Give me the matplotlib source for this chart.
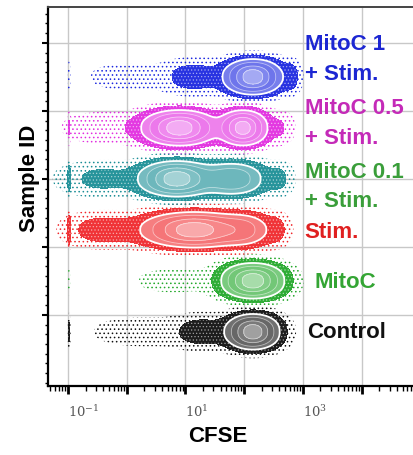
import numpy as np
import matplotlib
matplotlib.use("Agg")
import matplotlib.pyplot as plt
from matplotlib import ticker, colors as mcolors

plt.rcParams["mathtext.fontset"] = "dejavuserif"

# Samples from bottom to top of the stack
samples = ["Control", "MitoC", "Stim.", "MitoC 0.1\n+ Stim.", "MitoC 0.5\n+ Stim.", "MitoC 1\n+ Stim."]
row_y = [0.75, 1.5, 2.25, 3.0, 3.75, 4.5]
dot_colors = ["#111111", "#22a82a", "#f0282c", "#1b8e96", "#e22ee0", "#1c28e0"]
label_colors = ["#111111", "#34a534", "#e02020", "#3a9e3a", "#c42ab8", "#1c26d2"]

# CFSE populations per sample: (log10 centre, log10 width, relative weight)
peaks = [
    [(2.15, 0.23, 1.0), (1.3, 0.28, 0.08), (0.3, 0.55, 0.02), (-0.98, 0.012, 0.06)],
    [(2.15, 0.27, 1.0), (0.8, 0.5, 0.012), (-0.98, 0.012, 0.02)],
    [(1.15, 0.45, 1.0), (2.0, 0.25, 0.3), (-0.4, 0.35, 0.08), (2.55, 0.13, 0.05), (-0.98, 0.015, 0.12)],
    [(0.85, 0.32, 1.0), (1.8, 0.3, 0.5), (-0.4, 0.40, 0.06), (2.6, 0.13, 0.05), (-0.98, 0.015, 0.08)],
    [(0.9, 0.32, 1.0), (1.98, 0.21, 0.95), (-0.3, 0.45, 0.03), (2.62, 0.13, 0.04), (-0.98, 0.012, 0.04)],
    [(2.15, 0.25, 1.0), (1.15, 0.30, 0.08), (0.0, 0.45, 0.015), (2.8, 0.09, 0.06), (-0.98, 0.012, 0.03)],
]
row_height = 0.148

# label anchor per sample: (log10 x, y of first line)
label_x = [3.08, 3.2, 3.03, 3.03, 3.03, 3.03]
label_top = [0.74, 1.47, 2.21, 3.10, 4.04, 4.97]

dec_ticks = [-1, 0, 1, 2, 3, 4, 5]
dec_labels = [r"$10^{-1}$", "", r"$10^{1}$", "", r"$10^{3}$", "", r"$10^{5}$"]


def tint(c, f):
    r = np.array(mcolors.to_rgb(c))
    return tuple(r + (1 - r) * f)


fig = plt.figure(figsize=(4.13, 4.55), dpi=100)
ax = fig.add_axes([0.116, 0.152, 0.93, 0.833])

gx = np.linspace(-1.34, 3.6, 1600)
for y0, comps, col in zip(row_y, peaks, dot_colors):
    gy = np.linspace(y0 - 0.4, y0 + 0.4, 240)
    GX, GY = np.meshgrid(gx, gy)
    dens = np.zeros_like(GX)
    for mu, sx, w in comps:
        dens += w * np.exp(-(GX - mu) ** 2 / (2 * sx ** 2))
    # slightly flat-topped profile across the row
    dens *= np.exp(-0.5 * (np.abs(GY - y0) / row_height) ** 2.4)
    dens /= dens.max()
    X = 10 ** GX

    # sparse events as stippling
    with plt.rc_context({"hatch.color": col, "hatch.linewidth": 0.6}):
        ax.contourf(X, GY, dens, levels=[0.006, 0.04], colors="none", hatches=["...."])
    # dense events around the main populations
    with plt.rc_context({"hatch.color": tint(col, 0.6), "hatch.linewidth": 0.5}):
        ax.contourf(X, GY, dens, levels=[0.04, 0.14], colors=[col], alpha=0.95, hatches=["....."])
    # pseudocolour contours
    lv = [0.14, 0.3, 0.55, 0.8, 1.01]
    fills = [tint(col, f) for f in (0.4, 0.36, 0.44, 0.6)]
    ax.contourf(X, GY, dens, levels=lv, colors=fills)
    ax.contour(X, GY, dens, levels=lv[1:-1], colors="white", linewidths=0.6, alpha=0.55)
    ax.contour(X, GY, dens, levels=[0.14], colors="white", linewidths=1.3)

for name, lx, ly, lc in zip(samples, label_x, label_top, label_colors):
    for i, line in enumerate(name.split("\n")):
        ax.text(10 ** lx, ly - i * 0.44, line, color=lc, fontsize=16, fontweight="bold",
                family="Liberation Sans", ha="left", va="center")

ax.set_xscale("log")
ax.set_xlim(10 ** -1.34, 10 ** 5.2)
ax.set_ylim(-0.045, 5.53)

ax.set_xticks([10.0 ** d for d in dec_ticks], dec_labels)
ax.xaxis.set_minor_locator(ticker.LogLocator(base=10, subs=np.arange(2, 10)))
ax.xaxis.set_minor_formatter(ticker.NullFormatter())
for t in ax.get_xticklabels():
    t.set_ha("left")
ax.tick_params(axis="x", which="major", direction="out", length=6, width=2, pad=7,
               labelsize=9.5, labelcolor="#555555")
ax.tick_params(axis="x", which="minor", direction="out", length=3.5, width=1)

ax.set_yticks([1, 2, 3, 4, 5])
ax.yaxis.set_minor_locator(ticker.AutoMinorLocator(7))
ax.yaxis.set_major_formatter(ticker.NullFormatter())
ax.tick_params(axis="y", which="major", direction="out", length=4, width=1.5)
ax.tick_params(axis="y", which="minor", direction="out", length=2.5, width=1)

ax.grid(True, which="major", color="#c8c8c8", linewidth=1)
ax.set_axisbelow(True)
for s in ("left", "bottom"):
    ax.spines[s].set_linewidth(1.6)
ax.spines["top"].set_color("#444444")
ax.spines["top"].set_linewidth(1.4)

fig.text(218 / 413, 1 - 437 / 455, "CFSE", fontsize=16, fontweight="bold",
         family="Liberation Sans", ha="center", va="center")
fig.text(29 / 413, 1 - 178 / 455, "Sample ID", fontsize=16, fontweight="bold",
         family="Liberation Sans", ha="center", va="center", rotation=90)

fig.savefig("out.png", dpi=100)
